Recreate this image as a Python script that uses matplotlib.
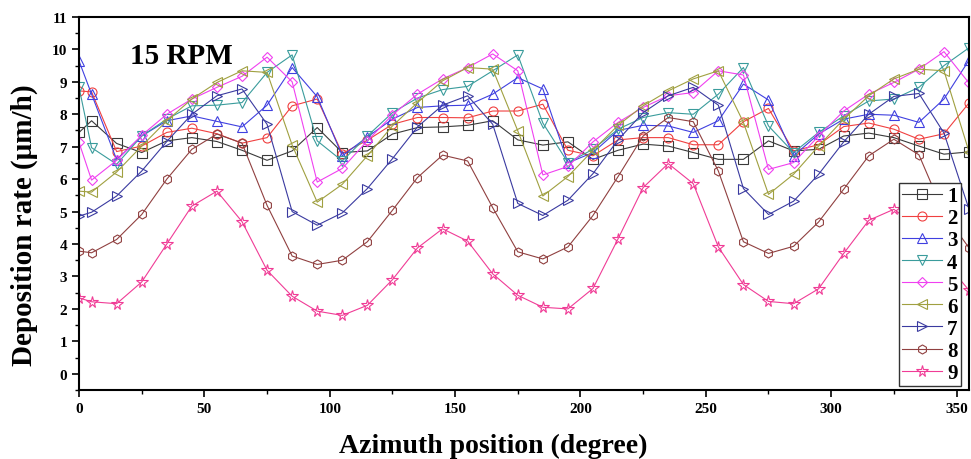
import matplotlib
matplotlib.use("Agg")
import matplotlib.pyplot as plt
from matplotlib.ticker import MultipleLocator

# azimuth positions (degree)
azimuth = [0, 5, 15, 25, 35, 45, 55, 65, 75, 85, 95, 105, 115, 125, 135, 145, 155, 165,
           175, 185, 195, 205, 215, 225, 235, 245, 255, 265, 275, 285, 295, 305, 315,
           325, 335, 345, 355]

# deposition rate (um/h) per sample position 1..9
s1 = [7.44, 7.80, 7.10, 6.82, 7.18, 7.28, 7.16, 6.89, 6.58, 6.87, 7.59, 6.82, 6.87, 7.39,
      7.59, 7.61, 7.66, 7.80, 7.21, 7.05, 7.15, 6.61, 6.89, 7.08, 7.02, 6.82, 6.61, 6.61,
      7.18, 6.87, 6.92, 7.33, 7.42, 7.28, 7.02, 6.77, 6.84]
s2 = [8.72, 8.69, 6.85, 7.02, 7.44, 7.57, 7.40, 7.11, 7.28, 8.26, 8.47, 6.79, 7.20, 7.69,
      7.90, 7.90, 7.89, 8.10, 8.10, 8.31, 6.89, 6.72, 7.21, 7.28, 7.28, 7.06, 7.06, 7.77,
      8.18, 6.87, 7.06, 7.62, 7.73, 7.54, 7.23, 7.40, 8.35]
s3 = [9.64, 8.62, 6.60, 7.33, 7.80, 7.95, 7.78, 7.61, 8.28, 9.44, 8.54, 6.72, 7.30, 7.85,
      8.21, 8.26, 8.28, 8.62, 9.13, 8.78, 6.50, 6.82, 7.50, 7.66, 7.64, 7.44, 7.80, 8.93,
      8.44, 6.72, 7.39, 7.85, 8.00, 7.97, 7.75, 8.47, 9.67]
s4 = [8.83, 6.97, 6.46, 7.33, 7.85, 8.26, 8.28, 8.36, 9.29, 9.83, 7.18, 6.56, 7.33, 8.05,
      8.50, 8.76, 8.86, 9.34, 9.83, 7.73, 6.51, 6.92, 7.54, 7.90, 8.05, 8.00, 8.62, 9.44,
      7.64, 6.82, 7.44, 7.95, 8.41, 8.47, 8.83, 9.50, 10.05]
s5 = [7.13, 5.97, 6.58, 7.35, 8.00, 8.47, 8.83, 9.17, 9.76, 9.00, 5.91, 6.33, 7.18, 7.98,
      8.62, 9.09, 9.44, 9.86, 9.34, 6.13, 6.39, 7.15, 7.75, 8.21, 8.57, 8.67, 9.34, 9.21,
      6.30, 6.51, 7.33, 8.10, 8.62, 8.98, 9.39, 9.93, 8.96]
s6 = [5.63, 5.60, 6.22, 7.02, 7.80, 8.47, 8.98, 9.34, 9.29, 7.05, 5.29, 5.84, 6.72, 7.64,
      8.36, 9.03, 9.44, 9.39, 7.49, 5.48, 6.08, 6.89, 7.66, 8.26, 8.72, 9.09, 9.34, 7.75,
      5.53, 6.15, 7.02, 7.85, 8.57, 9.09, 9.39, 9.34, 6.84]
s7 = [4.86, 4.98, 5.48, 6.25, 7.16, 8.00, 8.57, 8.78, 7.69, 5.00, 4.58, 4.96, 5.71, 6.63,
      7.61, 8.28, 8.57, 7.69, 5.25, 4.88, 5.35, 6.17, 7.21, 8.05, 8.57, 8.83, 8.28, 5.71,
      4.91, 5.32, 6.15, 7.15, 8.00, 8.55, 8.64, 7.42, 5.07]
s8 = [3.78, 3.73, 4.14, 4.91, 6.00, 6.92, 7.39, 7.11, 5.19, 3.63, 3.37, 3.50, 4.07, 5.04,
      6.05, 6.74, 6.56, 5.12, 3.76, 3.54, 3.91, 4.88, 6.08, 7.33, 7.90, 7.77, 6.25, 4.07,
      3.71, 3.93, 4.68, 5.69, 6.72, 7.23, 6.75, 4.95, 3.88]
s9 = [2.34, 2.22, 2.16, 2.83, 4.00, 5.17, 5.63, 4.69, 3.19, 2.39, 1.93, 1.80, 2.11, 2.90,
      3.88, 4.47, 4.09, 3.08, 2.42, 2.05, 2.00, 2.63, 4.16, 5.74, 6.48, 5.86, 3.91, 2.75,
      2.23, 2.16, 2.62, 3.71, 4.73, 5.07, 4.50, 3.50, 2.57]

series = [s1, s2, s3, s4, s5, s6, s7, s8, s9]
labels = ['1', '2', '3', '4', '5', '6', '7', '8', '9']
markers = ['s', 'o', '^', 'v', 'D', '<', '>', 'h', '*']
colors = ['#3a3a3a', '#f04040', '#4040e0', '#3a9c9c', '#f040f0',
          '#a0a040', '#3a3aa0', '#904040', '#f03c96']

plt.rcParams['font.family'] = 'Liberation Serif'
plt.rcParams['font.weight'] = 'bold'

fig = plt.figure(figsize=(9.71, 4.6), dpi=100)
ax = fig.add_axes([0.0814, 0.150, 0.9166, 0.811])

for y, lab, m, c in zip(series, labels, markers, colors):
    ms = 8.5 if m == '*' else 6.5
    if m == 'D':
        ms = 5.5
    ax.plot(azimuth, y, color=c, marker=m, mfc='none', mec=c, ms=ms,
            mew=0.8, lw=0.8, label=lab)

ax.set_xlim(0, 355)
ax.set_ylim(-0.5, 11)
ax.xaxis.set_major_locator(MultipleLocator(50))
ax.xaxis.set_minor_locator(MultipleLocator(25))
ax.yaxis.set_major_locator(MultipleLocator(1))
ax.yaxis.set_minor_locator(MultipleLocator(0.5))
ax.tick_params(which='major', direction='out', length=5, width=1.2, labelsize=11)
ax.tick_params(which='minor', direction='out', length=3, width=1.0)
for lbl in ax.get_xticklabels() + ax.get_yticklabels():
    lbl.set_fontweight('bold')
for sp in ax.spines.values():
    sp.set_linewidth(1.5)

ax.set_xlabel('Azimuth position (degree)', fontsize=20, fontweight='bold', labelpad=12)
ax.xaxis.set_label_coords(0.465, -0.115)
ax.set_ylabel('Deposition rate (\u03bcm/h)', fontsize=21, fontweight='bold')
ax.yaxis.set_label_coords(-0.046, 0.445)
ax.text(20.3, 9.58, '15 RPM', fontsize=21, fontweight='bold', va='baseline')

leg = ax.legend(loc='lower right', bbox_to_anchor=(0.993, 0.005), fontsize=15,
                handlelength=1.9, handletextpad=0.25, labelspacing=0.1,
                borderpad=0.15, borderaxespad=0.1, fancybox=False, framealpha=1)
leg.get_frame().set_edgecolor('#333333')
leg.get_frame().set_linewidth(1.0)
for t in leg.get_texts():
    t.set_fontweight('bold')

plt.savefig('out.png', dpi=100)
